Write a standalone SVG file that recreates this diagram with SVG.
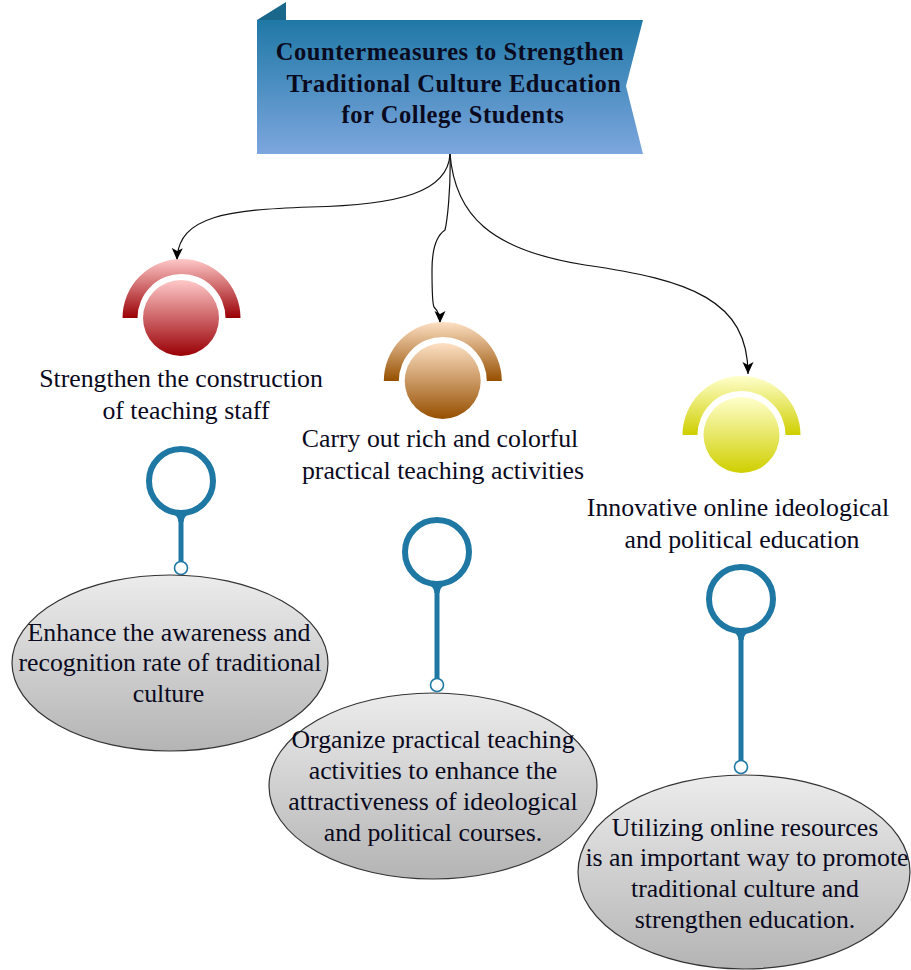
<svg xmlns="http://www.w3.org/2000/svg" width="911" height="970" viewBox="0 0 911 970">
<style>
text{font-family:"Liberation Serif","Times New Roman",serif;font-size:25.8px;fill:#0a0a1e;text-anchor:middle}
.title{font-weight:bold;font-size:24.5px;letter-spacing:.55px}
.conn{fill:none;stroke:#111;stroke-width:1.2}
.pin{fill:none;stroke:#1f78a4;stroke-width:6}
.stem{stroke:#1f78a4;stroke-width:5}
.flare{fill:#1f78a4}
.dot{fill:#fff;stroke:#1f78a4;stroke-width:1.6}
.ell{fill:url(#g);stroke:#333;stroke-width:1.2}
</style>
<defs>
<linearGradient id="b" x1="0" y1="0" x2="0" y2="1"><stop offset="0" stop-color="#1f78a6"/><stop offset="1" stop-color="#7ca6de"/></linearGradient>
<linearGradient id="r" x1="0" y1="0" x2="0" y2="1"><stop offset="0" stop-color="#ffc8c8"/><stop offset="1" stop-color="#9a0005"/></linearGradient>
<linearGradient id="o" x1="0" y1="0" x2="0" y2="1"><stop offset="0" stop-color="#fde0c4"/><stop offset="1" stop-color="#964f00"/></linearGradient>
<linearGradient id="y" x1="0" y1="0" x2="0" y2="1"><stop offset="0" stop-color="#ffffcc"/><stop offset="1" stop-color="#cfcf00"/></linearGradient>
<linearGradient id="g" x1="0" y1="0" x2="0" y2="1"><stop offset="0" stop-color="#ececec"/><stop offset="1" stop-color="#b4b4b4"/></linearGradient>
<marker id="a" markerWidth="14" markerHeight="14" refX="12" refY="7" orient="auto" markerUnits="userSpaceOnUse"><path d="M0 1.5 L12 7 L0 12.5 L3 7 Z" fill="#000"/></marker>
<path id="arc" d="M-59 29 A59 59 0 0 1 59 29 H44 A44 44 0 0 0 -44 29 Z"/>
<path id="fl" d="M-9 0 Q-3 3 -2.5 9 H2.5 Q3 3 9 0 Z"/>
</defs>
<g id="connectors">
<path class="conn" marker-end="url(#a)" d="M450 154 C448 192 400 205 310 207 C230 210 178 215 177 260"/>
<path class="conn" marker-end="url(#a)" d="M450 154 C451 190 447 222 445 230 C436 236 432 250 432 270 C432 290 432 303 434 307 C438 311 440 316 440 323"/>
<path class="conn" marker-end="url(#a)" d="M450 154 C455 215 490 250 585 265 C690 280 748 300 748 374"/>
</g>
<g id="title"><path d="M257 20 L286 2 V20 Z" fill="#19688c"/><path d="M257 20 H643 L626 86 L643 154 H257 Z" fill="url(#b)"/>
<text class="title" x="450" y="60">Countermeasures to Strengthen</text><text class="title" x="454" y="92">Traditional Culture Education</text><text class="title" x="453" y="123">for College Students</text></g>
<g id="node-red"><use href="#arc" transform="translate(181.5 289)" fill="url(#r)"/><circle cx="181" cy="318" r="38" fill="url(#r)"/></g>
<g id="node-orange"><use href="#arc" transform="translate(442.8 352)" fill="url(#o)"/><circle cx="442.7" cy="381" r="38" fill="url(#o)"/></g>
<g id="node-yellow"><use href="#arc" transform="translate(741.5 406)" fill="url(#y)"/><circle cx="741.5" cy="435" r="38" fill="url(#y)"/></g>
<g id="label-1"><text x="181" y="387">Strengthen the construction</text><text x="186" y="419">of teaching staff</text></g>
<g id="label-2"><text x="440" y="447">Carry out rich and colorful</text><text x="443" y="479">practical teaching activities</text></g>
<g id="label-3"><text x="738" y="516">Innovative online ideological</text><text x="742" y="548">and political education</text></g>
<g id="pin-1"><line class="stem" x1="181" y1="515" x2="181" y2="562"/><use href="#fl" class="flare" transform="translate(181 513)"/><circle class="pin" cx="181" cy="481" r="32"/><circle class="dot" cx="181" cy="568" r="6.5"/></g>
<g id="pin-2"><line class="stem" x1="437" y1="586" x2="437" y2="679"/><use href="#fl" class="flare" transform="translate(437 584)"/><circle class="pin" cx="437" cy="552" r="32"/><circle class="dot" cx="437" cy="685" r="6.5"/></g>
<g id="pin-3"><line class="stem" x1="741" y1="633" x2="741" y2="761"/><use href="#fl" class="flare" transform="translate(741 631)"/><circle class="pin" cx="741" cy="599" r="32"/><circle class="dot" cx="741" cy="767" r="6.5"/></g>
<g id="ellipse-1"><ellipse class="ell" cx="170" cy="663" rx="158" ry="88"/><text x="169" y="641">Enhance the awareness and</text><text x="170" y="671">recognition rate of traditional</text><text x="168.500" y="702">culture</text></g>
<g id="ellipse-2"><ellipse class="ell" cx="433" cy="786" rx="164" ry="93"/><text x="433" y="748">Organize practical teaching</text><text x="433" y="779">activities to enhance the</text><text x="433" y="810">attractiveness of ideological</text><text x="433" y="841">and political courses.</text></g>
<g id="ellipse-3"><ellipse class="ell" cx="744" cy="872" rx="166" ry="97"/><text x="745" y="836">Utilizing online resources</text><text x="747" y="866">is an important way to promote</text><text x="745" y="897">traditional culture and</text><text x="745" y="928">strengthen education.</text></g>
</svg>
